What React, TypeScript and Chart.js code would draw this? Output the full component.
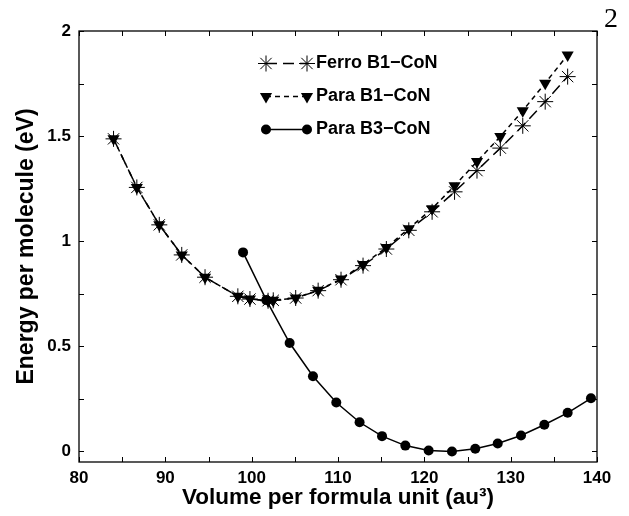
import React, { useEffect, useRef } from 'react';
import { Chart, registerables } from 'chart.js';

Chart.register(...registerables);

// ---------- data ----------
const ferroB1X = [84.0, 86.7, 89.3, 91.9, 94.6, 98.4, 99.8, 101.9, 102.5, 105.1, 107.7, 110.35, 112.9, 115.6, 118.2, 120.9, 123.5, 126.1, 128.8, 131.4, 134.0, 136.6];
const ferroB1Y = [1.487, 1.256, 1.078, 0.935, 0.829, 0.738, 0.725, 0.717, 0.719, 0.73, 0.765, 0.817, 0.884, 0.963, 1.052, 1.14, 1.235, 1.336, 1.443, 1.549, 1.664, 1.783];

const paraB1X = [84.0, 86.7, 89.3, 91.9, 94.6, 98.4, 99.8, 101.9, 102.5, 105.1, 107.7, 110.35, 112.9, 115.6, 118.2, 120.9, 123.5, 126.1, 128.8, 131.4, 134.0, 136.6];
const paraB1Y = [1.487, 1.256, 1.078, 0.935, 0.829, 0.738, 0.725, 0.717, 0.719, 0.73, 0.767, 0.82, 0.889, 0.97, 1.06, 1.155, 1.264, 1.379, 1.498, 1.621, 1.752, 1.886];

const paraB3X = [99.0, 101.7, 104.4, 107.1, 109.8, 112.5, 115.1, 117.8, 120.5, 123.2, 125.9, 128.5, 131.2, 133.9, 136.6, 139.3];
const paraB3Y = [0.947, 0.72, 0.516, 0.358, 0.233, 0.139, 0.073, 0.028, 0.005, 0.0, 0.013, 0.038, 0.076, 0.127, 0.184, 0.253];

const seriesLabels = ['Ferro B1\u2212CoN', 'Para B1\u2212CoN', 'Para B3\u2212CoN'];
const xTickValues = [80, 90, 100, 110, 120, 130, 140];
const yTickValues = [0, 0.5, 1, 1.5, 2];
const xMin = 80, xMax = 140, xMinorStep = 5;
const yMin = -0.05, yMax = 2, yMinorStep = 0.25;
const xTitle = 'Volume per formula unit (au\u00B3)';
const yTitle = 'Energy per molecule (eV)';
const pageNumber = '2';

const FONT = "'Liberation Sans', Arial, Helvetica, sans-serif";

const toPts = (xs: number[], ys: number[]) => xs.map((x, i) => ({ x, y: ys[i] }));

type Marker = 'star' | 'tri' | 'circle';

function drawMarker(ctx: CanvasRenderingContext2D, m: Marker, x: number, y: number) {
  ctx.save();
  ctx.fillStyle = '#000';
  ctx.strokeStyle = '#000';
  if (m === 'star') {
    const r = 8;
    ctx.lineWidth = 1;
    ctx.beginPath();
    for (let k = 0; k < 4; k++) {
      const a = (k * Math.PI) / 4;
      ctx.moveTo(x - r * Math.cos(a), y - r * Math.sin(a));
      ctx.lineTo(x + r * Math.cos(a), y + r * Math.sin(a));
    }
    ctx.stroke();
  } else if (m === 'tri') {
    const r = 7;
    ctx.beginPath();
    ctx.moveTo(x, y + r);
    ctx.lineTo(x - r * Math.sin(Math.PI / 3), y - r / 2);
    ctx.lineTo(x + r * Math.sin(Math.PI / 3), y - r / 2);
    ctx.closePath();
    ctx.fill();
  } else {
    ctx.beginPath();
    ctx.arc(x, y, 5, 0, Math.PI * 2);
    ctx.fill();
  }
  ctx.restore();
}

const markers: Marker[] = ['star', 'tri', 'circle'];
const dashes: number[][] = [[11, 6], [5, 4], []];

const framePlugin = {
  id: 'frameTicksLegend',
  afterDraw(chart: any) {
    const { ctx, chartArea } = chart;
    const { left, right, top, bottom } = chartArea;
    const xs = chart.scales.x;
    const ys = chart.scales.y;
    ctx.save();
    ctx.strokeStyle = '#000';
    ctx.lineWidth = 1.3;
    ctx.strokeRect(left, top, right - left, bottom - top);
    const tl = 5;
    ctx.lineWidth = 1;
    ctx.beginPath();
    for (let v = xMin; v <= xMax + 1e-9; v += xMinorStep) {
      const px = Math.round(xs.getPixelForValue(v)) + 0.5;
      ctx.moveTo(px, bottom);
      ctx.lineTo(px, bottom - tl);
      ctx.moveTo(px, top);
      ctx.lineTo(px, top + tl);
    }
    for (let v = 0; v <= yMax + 1e-9; v += yMinorStep) {
      const py = Math.round(ys.getPixelForValue(v)) + 0.5;
      ctx.moveTo(left, py);
      ctx.lineTo(left + tl, py);
      ctx.moveTo(right, py);
      ctx.lineTo(right - tl, py);
    }
    ctx.stroke();

    // legend
    const lx1 = 266, lx2 = 307, tx = 316;
    const rowY = [63.5, 96.5, 129.5];
    for (let i = 0; i < 3; i++) {
      const y = rowY[i];
      ctx.save();
      ctx.strokeStyle = '#000';
      ctx.lineWidth = 1.5;
      ctx.setLineDash(dashes[i]);
      ctx.beginPath();
      ctx.moveTo(lx1, y);
      ctx.lineTo(lx2, y);
      ctx.stroke();
      ctx.restore();
      drawMarker(ctx, markers[i], lx1, y);
      drawMarker(ctx, markers[i], lx2, y);
      ctx.fillStyle = '#000';
      ctx.font = `bold 18px ${FONT}`;
      ctx.textBaseline = 'middle';
      ctx.textAlign = 'left';
      ctx.fillText(seriesLabels[i], tx, y);
    }
    ctx.restore();
  },
};

export default function App() {
  const ref = useRef<HTMLCanvasElement | null>(null);
  useEffect(() => {
    if (!ref.current) return;
    Chart.defaults.font.family = FONT;
    const chart = new Chart(ref.current, {
      type: 'line',
      data: {
        datasets: [
          {
            label: seriesLabels[0],
            data: toPts(ferroB1X, ferroB1Y),
            borderColor: '#000',
            backgroundColor: '#000',
            borderWidth: 1.5,
            borderDash: dashes[0],
            pointStyle: 'star',
            pointRadius: 8,
            pointBorderWidth: 1,
            pointBorderColor: '#000',
            fill: false,
            tension: 0,
            clip: false as any,
          },
          {
            label: seriesLabels[1],
            data: toPts(paraB1X, paraB1Y),
            borderColor: '#000',
            backgroundColor: '#000',
            borderWidth: 1.5,
            borderDash: dashes[1],
            pointStyle: 'triangle',
            pointRotation: 180,
            pointRadius: 7,
            pointBorderWidth: 0,
            pointBackgroundColor: '#000',
            fill: false,
            tension: 0,
            clip: false as any,
          },
          {
            label: seriesLabels[2],
            data: toPts(paraB3X, paraB3Y),
            borderColor: '#000',
            backgroundColor: '#000',
            borderWidth: 1.5,
            pointStyle: 'circle',
            pointRadius: 5,
            pointBorderWidth: 0,
            pointBackgroundColor: '#000',
            fill: false,
            tension: 0,
            clip: false as any,
          },
        ],
      },
      options: {
        responsive: false,
        animation: false,
        events: [],
        layout: { padding: { left: 0, right: 32, top: 31, bottom: 0 } },
        plugins: { legend: { display: false }, tooltip: { enabled: false } },
        scales: {
          x: {
            type: 'linear',
            min: xMin,
            max: xMax,
            grid: { display: false, drawTicks: false },
            border: { display: false },
            ticks: {
              stepSize: 10,
              padding: 6,
              color: '#000',
              maxRotation: 0,
              font: { size: 17, weight: 'bold', family: FONT },
            },
            afterBuildTicks: (s: any) => {
              s.ticks = xTickValues.map((v) => ({ value: v }));
            },
            afterFit: (s: any) => {
              s.height = 54;
            },
            title: {
              display: true,
              text: xTitle,
              color: '#000',
              padding: { top: 0, bottom: 5 },
              font: { size: 22.5, weight: 'bold', family: FONT },
            },
          },
          y: {
            type: 'linear',
            min: yMin,
            max: yMax,
            grid: { display: false, drawTicks: false },
            border: { display: false },
            ticks: {
              padding: 8,
              color: '#000',
              font: { size: 17, weight: 'bold', family: FONT },
              callback: (v: any) => String(v),
            },
            afterBuildTicks: (s: any) => {
              s.ticks = yTickValues.map((v) => ({ value: v }));
            },
            afterFit: (s: any) => {
              s.width = 79;
            },
            title: {
              display: true,
              text: yTitle,
              color: '#000',
              padding: { top: 13, bottom: 0 },
              font: { size: 23, weight: 'bold', family: FONT },
            },
          },
        },
      } as any,
      plugins: [framePlugin],
    });
    return () => chart.destroy();
  }, []);

  return (
    <div style={{ position: 'fixed', left: 0, top: 0, width: 629, height: 516, background: '#fff' }}>
      <canvas ref={ref} width={629} height={516} style={{ display: 'block', width: 629, height: 516 }} />
      <div
        style={{
          position: 'absolute',
          left: 604,
          top: 4,
          fontFamily: "'Liberation Serif', 'DejaVu Serif', serif",
          fontSize: 28,
          lineHeight: '28px',
          color: '#000',
        }}
      >
        {pageNumber}
      </div>
    </div>
  );
}
